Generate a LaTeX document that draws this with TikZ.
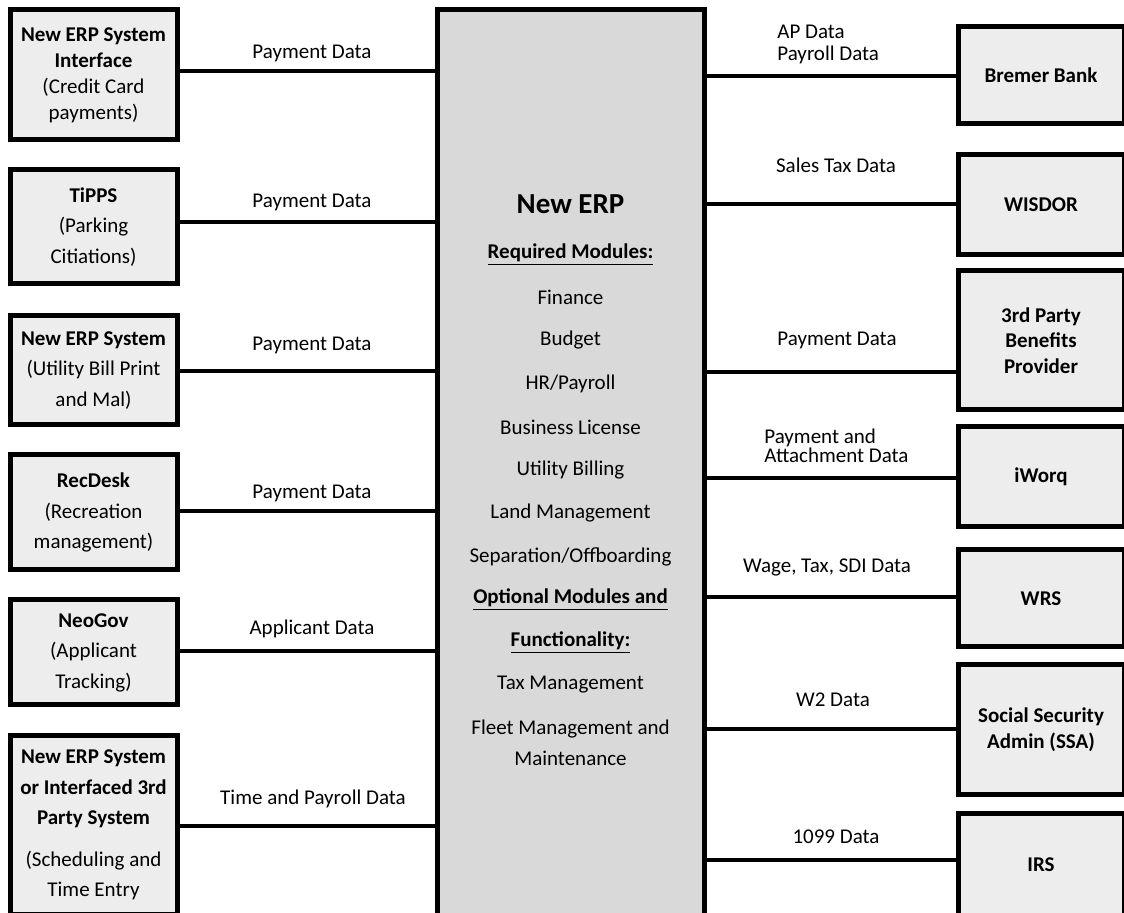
\documentclass[tikz,border=0pt]{standalone}
\usepackage{fontspec}
\setmainfont{Carlito}
\usetikzlibrary{positioning}
\definecolor{boxgray}{HTML}{EDEDED}
\definecolor{erpgray}{HTML}{D9D9D9}
\tikzset{
  sysbox/.style={draw, line width=2.5pt, fill=boxgray, inner sep=0pt, outer sep=0pt, align=center},
  leftbox/.style={sysbox, minimum width=83.5pt, font=\fontsize{10.5}{15.25}\selectfont},
  rightbox/.style={sysbox, minimum width=83pt, font=\bfseries\fontsize{10.5}{12.75}\selectfont},
  link/.style={line width=2pt},
  flowlabel/.style={font=\fontsize{10.5}{11}\selectfont, inner sep=0pt},
  modtext/.style={font=\fontsize{10.5}{12}\selectfont, inner sep=0pt}
}
\begin{document}
\begin{tikzpicture}[x=0.5pt, y=-0.5pt]
\clip (0,0) rectangle (1124,913);
\fill[white] (0,0) rectangle (1124,913);
% central system
\node[draw, line width=2.5pt, fill=erpgray, minimum width=133.5pt, minimum height=460pt, outer sep=0pt] (ERP) at (570.5,470) {};
\node[font=\bfseries\fontsize{14.5}{16}\selectfont, inner sep=0pt] (erptitle) at (570.5,204) {New ERP};
\foreach \y/\t [count=\i] in {255/{\textbf{\underline{Required Modules:}}}, 297/Finance, 340/Budget, 384/{HR/Payroll},
  427/Business License, 470/Utility Billing, 513/Land Management, 557/{Separation/Offboarding},
  600/{\textbf{\underline{Optional Modules and}}}, 643/{\textbf{\underline{Functionality:}}}, 685/Tax Management,
  729/Fleet Management and, 758/Maintenance}
  \node[modtext] (mod\i) at (570.5,\y) {\t};
% left side systems
\node[leftbox, minimum height=65pt, font=\fontsize{10.5}{13}\selectfont] (L1) at (93.5,75) {\textbf{New ERP System}\\\textbf{Interface}\\(Credit Card\\payments)};
\node[leftbox, minimum height=57pt] (L2) at (93.5,227) {\textbf{TiPPS}\\(Parking\\Citiations)};
\node[leftbox, minimum height=54.5pt] (L3) at (93.5,370.5) {\textbf{New ERP System}\\(Utility Bill Print\\and Mal)};
\node[leftbox, minimum height=57.5pt] (L4) at (93.5,512.5) {\textbf{RecDesk}\\(Recreation\\management)};
\node[leftbox, minimum height=52.5pt] (L5) at (93.5,652.5) {\textbf{NeoGov}\\(Applicant\\Tracking)};
\node[leftbox, minimum height=89pt] (L6) at (93.5,825) {\textbf{New ERP System}\\\textbf{or Interfaced 3rd}\\\textbf{Party System}\\[5.5pt](Scheduling and\\Time Entry};
% right side systems
\node[rightbox, minimum height=48.5pt] (R1) at (1041,75.5) {Bremer Bank};
\node[rightbox, minimum height=50pt] (R2) at (1041,205) {WISDOR};
\node[rightbox, minimum height=69.5pt] (R3) at (1041,340.5) {3rd Party\\Benefits\\Provider};
\node[rightbox, minimum height=50pt] (R4) at (1041,477) {iWorq};
\node[rightbox, minimum height=48.5pt] (R5) at (1041,598.5) {WRS};
\node[rightbox, minimum height=64.5pt] (R6) at (1041,729.5) {Social Security\\Admin (SSA)};
\node[rightbox, minimum height=52pt] (R7) at (1041,865) {IRS};
% data flows
\foreach \n/\y in {L1/71, L2/222, L3/371, L4/511, L5/651, L6/826}
  \draw[link] (\n.east |- 0,\y) -- (ERP.west |- 0,\y);
\foreach \n/\y in {R1/76, R2/204, R3/372, R4/478, R5/597, R6/729, R7/860}
  \draw[link] (ERP.east |- 0,\y) -- (\n.west |- 0,\y);
% flow labels
\node[flowlabel] (f1) at (312,53) {Payment Data};
\node[flowlabel] (f2) at (312,202) {Payment Data};
\node[flowlabel] (f3) at (312,345) {Payment Data};
\node[flowlabel] (f4) at (312,493) {Payment Data};
\node[flowlabel] (f5) at (312,629) {Applicant Data};
\node[flowlabel] (f6) at (313,799) {Time and Payroll Data};
\node[flowlabel, align=left, anchor=west] (g1) at (777,44) {AP Data\\Payroll Data};
\node[flowlabel] (g2) at (836,165) {Sales Tax Data};
\node[flowlabel] (g3) at (837,340) {Payment Data};
\node[flowlabel, align=left, anchor=west, font=\fontsize{10.5}{9.5}\selectfont] (g4) at (764,446) {Payment and\\Attachment Data};
\node[flowlabel] (g5) at (827,567) {Wage, Tax, SDI Data};
\node[flowlabel] (g6) at (833,700) {W2 Data};
\node[flowlabel] (g7) at (836,837) {1099 Data};
\end{tikzpicture}
\end{document}
